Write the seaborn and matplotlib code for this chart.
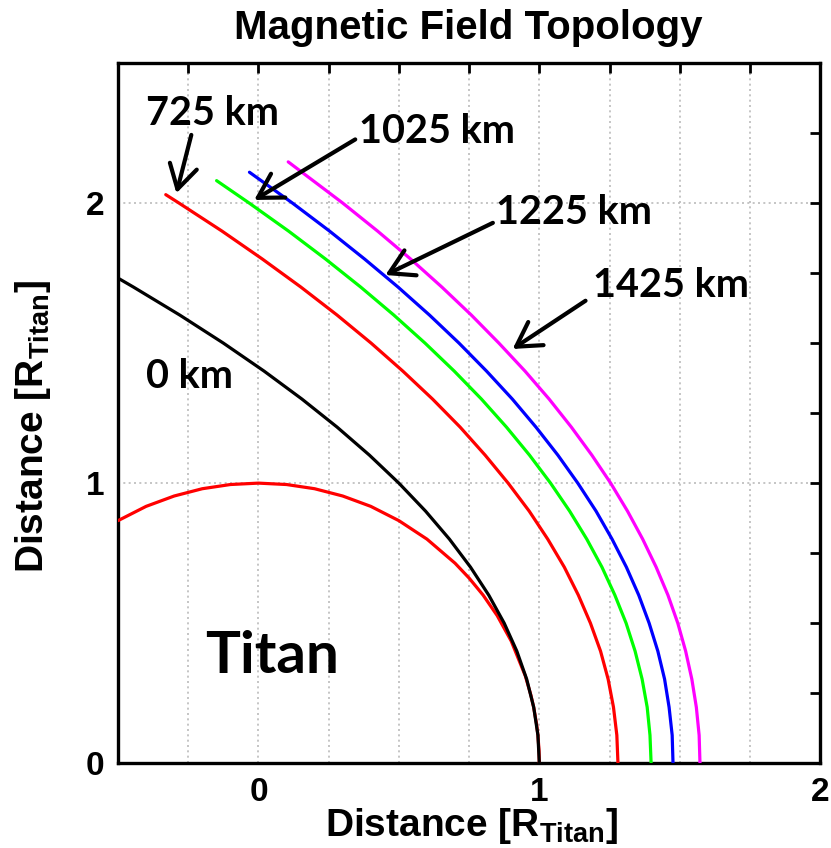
import numpy as np
import pandas as pd
import matplotlib
matplotlib.use("Agg")
import matplotlib.pyplot as plt
import seaborn as sns

# ---------------- data ----------------
titan_x = [1.0, 0.999, 0.995, 0.99, 0.98, 0.97, 0.95, 0.9, 0.85, 0.8, 0.75, 0.7, 0.6, 0.5,
           0.4, 0.3, 0.2, 0.1, 0.0, -0.1, -0.2, -0.3, -0.4, -0.5]
titan_y = [0.0, 0.045, 0.100, 0.141, 0.199, 0.243, 0.312, 0.436, 0.527, 0.600, 0.661, 0.714,
           0.800, 0.866, 0.917, 0.954, 0.980, 0.995, 1.0, 0.995, 0.980, 0.954, 0.917, 0.866]

y_0km = [0, 0.1, 0.2, 0.3, 0.4, 0.5, 0.6, 0.7, 0.8, 0.9, 1.0, 1.1, 1.2, 1.3, 1.4, 1.5, 1.6, 1.7, 1.732]
x_0km = [1.000, 0.995, 0.980, 0.955, 0.920, 0.875, 0.820, 0.755, 0.680, 0.595, 0.500, 0.395,
         0.280, 0.155, 0.020, -0.125, -0.280, -0.445, -0.500]

y_725 = [0, 0.1, 0.2, 0.3, 0.4, 0.5, 0.6, 0.7, 0.8, 0.9, 1.0, 1.1, 1.2, 1.3, 1.4, 1.5, 1.6, 1.7,
         1.8, 1.9, 2.0, 2.03]
x_725 = [1.280, 1.276, 1.264, 1.245, 1.218, 1.182, 1.139, 1.089, 1.030, 0.964, 0.889, 0.807,
         0.718, 0.620, 0.514, 0.401, 0.280, 0.151, 0.014, -0.130, -0.283, -0.330]

y_1025 = [0, 0.1, 0.2, 0.3, 0.4, 0.5, 0.6, 0.7, 0.8, 0.9, 1.0, 1.1, 1.2, 1.3, 1.4, 1.5, 1.6, 1.7,
          1.8, 1.9, 2.0, 2.08]
x_1025 = [1.398, 1.394, 1.384, 1.366, 1.341, 1.309, 1.269, 1.223, 1.169, 1.108, 1.040, 0.965,
          0.883, 0.794, 0.697, 0.593, 0.482, 0.364, 0.239, 0.107, -0.033, -0.149]

y_1225 = [0, 0.1, 0.2, 0.3, 0.4, 0.5, 0.6, 0.7, 0.8, 0.9, 1.0, 1.1, 1.2, 1.3, 1.4, 1.5, 1.6, 1.7,
          1.8, 1.9, 2.0, 2.11]
x_1225 = [1.476, 1.473, 1.462, 1.446, 1.422, 1.391, 1.354, 1.310, 1.259, 1.202, 1.137, 1.066,
          0.988, 0.904, 0.812, 0.714, 0.609, 0.497, 0.378, 0.253, 0.121, -0.032]

y_1425 = [0, 0.1, 0.2, 0.3, 0.4, 0.5, 0.6, 0.7, 0.8, 0.9, 1.0, 1.1, 1.2, 1.3, 1.4, 1.5, 1.6, 1.7,
          1.8, 1.9, 2.0, 2.147]
x_1425 = [1.572, 1.569, 1.559, 1.543, 1.521, 1.493, 1.458, 1.416, 1.368, 1.314, 1.254, 1.187,
          1.114, 1.035, 0.949, 0.856, 0.758, 0.653, 0.542, 0.424, 0.300, 0.106]

x_ticks = [-0.5, -0.25, 0, 0.25, 0.5, 0.75, 1, 1.25, 1.5, 1.75, 2]
x_tick_labels = ["", "", "0", "", "", "", "1", "", "", "", "2"]
y_major = [0, 1, 2]
y_minor = [0.25, 0.5, 0.75, 1.25, 1.5, 1.75, 2.25, 2.5]

# ---------------- styling ----------------
sns.set_style("white")
plt.rcParams["font.family"] = ["Liberation Sans", "DejaVu Sans"]
plt.rcParams["mathtext.fontset"] = "custom"
plt.rcParams["mathtext.bf"] = "Liberation Sans:bold"
plt.rcParams["mathtext.rm"] = "Liberation Sans:bold"
plt.rcParams["text.color"] = "black"
plt.rcParams["axes.labelcolor"] = "black"
plt.rcParams["xtick.color"] = "black"
plt.rcParams["ytick.color"] = "black"

fig = plt.figure(figsize=(8.31, 8.48), dpi=100)
ax = fig.add_axes([0.142, 0.100, 0.845, 0.8257])

curves = [
    (titan_x, titan_y, "#ff0000"),
    (x_0km, y_0km, "#000000"),
    (x_725, y_725, "#ff0000"),
    (x_1025, y_1025, "#00ff00"),
    (x_1225, y_1225, "#0000ff"),
    (x_1425, y_1425, "#ff00ff"),
]
for xs, ys, col in curves:
    df = pd.DataFrame({"x": xs, "y": ys})
    sns.lineplot(data=df, x="x", y="y", sort=False, estimator=None, color=col,
                 linewidth=2.3, ax=ax, zorder=3)

ax.set_xlim(-0.5, 2)
ax.set_ylim(0, 2.5)

ax.set_xticks(x_ticks)
ax.set_xticklabels(x_tick_labels)
ax.set_yticks(y_major)
ax.set_yticklabels([str(v) for v in y_major])
ax.set_yticks(y_minor, minor=True)

ax.tick_params(axis="both", which="both", direction="in", top=True, right=True,
               length=7, width=2, labelsize=24, pad=10, colors="black")
for lab in ax.get_xticklabels() + ax.get_yticklabels():
    lab.set_fontweight("bold")

ax.xaxis.grid(True, which="major", color="#bbbbbb", linestyle=(0, (1.2, 2)), linewidth=1.2)
ax.yaxis.grid(True, which="major", color="#bbbbbb", linestyle=(0, (1.2, 2)), linewidth=1.2)
ax.set_axisbelow(True)

for sp in ax.spines.values():
    sp.set_linewidth(2.4)
    sp.set_color("black")
    sp.set_visible(True)

ax.set_xlabel(r"Distance [R$_{\mathbf{Titan}}$]", fontsize=28, fontweight="bold")
ax.set_ylabel(r"Distance [R$_{\mathbf{Titan}}$]", fontsize=28, fontweight="bold")
ax.xaxis.set_label_coords(0.5036, -0.061)
ax.yaxis.set_label_coords(-0.092, 0.481)
fig.text(0.5635, 0.967, "Magnetic Field Topology", fontsize=29, fontweight="bold",
         ha="center", va="center")

# ---------------- annotations ----------------
ann_font = ["Lato", "DejaVu Sans"]
arrow = dict(arrowstyle="->,head_length=0.6,head_width=0.35", lw=3, color="black",
             shrinkA=0, shrinkB=0)
fs = 28.5

ax.annotate("725 km", xy=(-0.292, 2.035), xytext=(-0.165, 2.321), fontsize=fs,
            fontweight="bold", family=ann_font, ha="center", va="center",
            arrowprops=dict(arrow, relpos=(0.35, 0.0)))
ax.annotate("1025 km", xy=(-0.015, 2.011), xytext=(0.634, 2.254), fontsize=fs,
            fontweight="bold", family=ann_font, ha="center", va="center",
            arrowprops=dict(arrow, relpos=(0.0, 0.35)))
ax.annotate("1225 km", xy=(0.452, 1.743), xytext=(1.124, 1.968), fontsize=fs,
            fontweight="bold", family=ann_font, ha="center", va="center",
            arrowprops=dict(arrow, relpos=(0.0, 0.25)))
ax.annotate("1425 km", xy=(0.905, 1.479), xytext=(1.470, 1.704), fontsize=fs,
            fontweight="bold", family=ann_font, ha="center", va="center",
            arrowprops=dict(arrow, relpos=(-0.05, 0.1)))
ax.text(-0.247, 1.379, "0 km", fontsize=fs, fontweight="bold", family=ann_font,
        ha="center", va="center")
ax.text(0.049, 0.382, "Titan", fontsize=42, fontweight="bold", family=ann_font,
        ha="center", va="center")

fig.savefig("out.png", dpi=100)
